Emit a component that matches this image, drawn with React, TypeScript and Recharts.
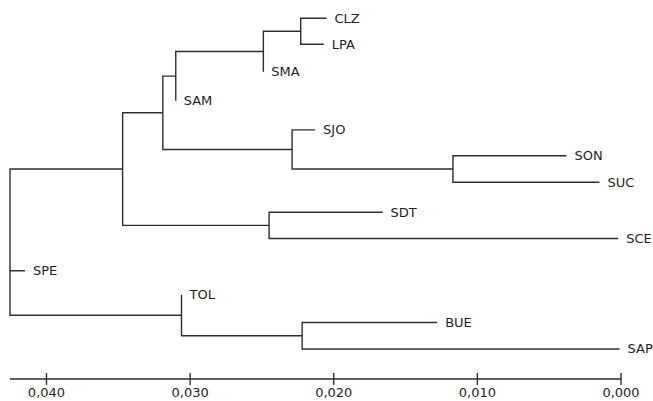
import { ScatterChart, Scatter, XAxis, YAxis } from 'recharts';

// leaves, top to bottom
const leafNames = ['CLZ', 'LPA', 'SMA', 'SAM', 'SJO', 'SON', 'SUC', 'SDT', 'SCE', 'SPE', 'TOL', 'BUE', 'SAP'];
const leafDist = [0.0205, 0.0207, 0.0249, 0.031, 0.0213, 0.0038, 0.0015, 0.0166, 0.0002, 0.0415, 0.0306, 0.0128, 0.0001];
const leafRow = [0, 0.94, 1.94, 2.99, 4.05, 4.99, 5.95, 7.04, 7.99, 9.16, 10.03, 11.04, 12.0];

// internal nodes (n0..n10): children and fusion distance
const nodeChildren = [
  ['CLZ', 'LPA'],
  ['n0', 'SMA'],
  ['n1', 'SAM'],
  ['SON', 'SUC'],
  ['SJO', 'n3'],
  ['n2', 'n4'],
  ['SDT', 'SCE'],
  ['n5', 'n6'],
  ['BUE', 'SAP'],
  ['TOL', 'n8'],
  ['n7', 'SPE', 'n9'],
];
const nodeDist = [0.0223, 0.0249, 0.031, 0.0117, 0.0229, 0.0319, 0.0245, 0.0347, 0.0222, 0.0306, 0.04254];

const xTicks = [0.04, 0.03, 0.02, 0.01, 0];

const LINE = '#2e2e2e';
const FONT = '"DejaVu Sans", Verdana, sans-serif';

type Pt = { x: number; y: number };

function position(id: string): Pt {
  if (id.startsWith('n')) {
    const i = Number(id.slice(1));
    const kids = nodeChildren[i].map(position);
    return { x: nodeDist[i], y: (kids[0].y + kids[kids.length - 1].y) / 2 };
  }
  const i = leafNames.indexOf(id);
  return { x: leafDist[i], y: leafRow[i] };
}

// one polyline per internal node: vertical bar plus a branch to each child
const branches: Pt[][] = nodeChildren.map((kids, i) => {
  const nx = nodeDist[i];
  const pts: Pt[] = [];
  kids.map(position).forEach((c) => {
    pts.push({ x: nx, y: c.y }, { x: c.x, y: c.y }, { x: nx, y: c.y });
  });
  return pts;
});

const leafPoints = leafNames.map((name, i) => ({ name, x: leafDist[i], y: leafRow[i] }));

const fmt = (v: number) => v.toFixed(3).replace('.', ',');

const Tick = (props: any) => {
  const { x, y, payload } = props;
  return (
    <g>
      <line x1={x} x2={x} y1={y - 12} y2={y} stroke={LINE} strokeWidth={1.4} />
      <text x={x} y={y + 7} textAnchor="middle" dominantBaseline="central" fill="#1e1e1e" fontSize={13} fontFamily={FONT}>
        {fmt(payload.value)}
      </text>
    </g>
  );
};

const LeafLabel = (props: any) => (
  <text x={props.cx + 8} y={props.cy} dominantBaseline="central" fill="#1e1e1e" fontSize={13} fontFamily={FONT}>
    {props.payload.name}
  </text>
);

export default function App() {
  return (
    <div style={{ position: 'absolute', left: 0, top: 0, background: '#fff' }}>
      <ScatterChart width={653} height={401} margin={{ top: 4.5, right: 32, bottom: 0, left: 10 }}>
        <XAxis
          type="number"
          dataKey="x"
          domain={[0, 0.04254]}
          reversed
          ticks={xTicks}
          tick={<Tick />}
          tickLine={false}
          tickSize={6}
          tickMargin={0}
          height={22}
          axisLine={{ stroke: LINE, strokeWidth: 1.5 }}
        />
        <YAxis type="number" dataKey="y" domain={[-0.5, 13.09]} reversed hide />
        {branches.map((pts, i) => (
          <Scatter
            key={i}
            data={pts}
            line={{ stroke: LINE, strokeWidth: 1.4 }}
            shape={() => <g />}
            isAnimationActive={false}
          />
        ))}
        <Scatter data={leafPoints} shape={<LeafLabel />} isAnimationActive={false} />
      </ScatterChart>
    </div>
  );
}
